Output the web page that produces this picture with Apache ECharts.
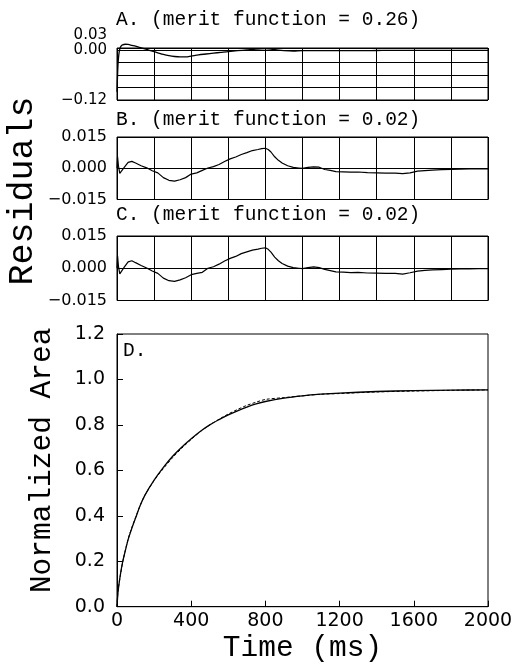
<!DOCTYPE html>
<html>
<head>
<meta charset="utf-8">
<script src="https://cdn.jsdelivr.net/npm/echarts@6/dist/echarts.min.js"></script>
<style>html,body{margin:0;padding:0;background:#fff}#c{width:518px;height:668px}</style>
</head>
<body>
<div id="c"></div>
<script>
// ---- Panel titles ----
const panelTitles = ['A. (merit function = 0.26)', 'B. (merit function = 0.02)', 'C. (merit function = 0.02)', 'D.'];

// ---- Panel A residuals ----
const timeA = [0, 3, 6, 10, 15, 20, 30, 45, 60, 80, 100, 130, 160, 190, 220, 250, 280, 310, 340, 370, 400, 440, 480, 520, 560, 600, 650, 700, 750, 800, 830, 860, 900, 950, 1000, 1100, 1200, 1300, 1400, 1500, 1600, 1700, 1800, 1900, 2000];
const resA = [-0.100, -0.060, -0.030, -0.010, 0.003, 0.009, 0.013, 0.0145, 0.014, 0.012, 0.010, 0.006, 0.002, -0.002, -0.006, -0.010, -0.013, -0.015, -0.016, -0.016, -0.014, -0.011, -0.009, -0.007, -0.005, -0.003, -0.001, 0.001, 0.003, 0.004, 0.003, 0.001, -0.001, -0.002, -0.001, -0.001, -0.001, -0.001, -0.0005, 0.000, 0.000, 0.000, 0.000, 0.000, 0.000];

// ---- Panels B and C residuals ----
const timeBC = [0, 3, 8, 15, 25, 40, 60, 80, 100, 130, 160, 190, 220, 250, 280, 310, 340, 370, 400, 430, 460, 490, 520, 550, 580, 610, 640, 670, 700, 730, 760, 780, 800, 815, 830, 850, 870, 890, 920, 950, 980, 1000, 1030, 1060, 1090, 1120, 1150, 1180, 1220, 1260, 1300, 1350, 1400, 1450, 1500, 1540, 1580, 1620, 1660, 1700, 1750, 1800, 1850, 1900, 1950, 2000];
const resB = [0.0, 0.0055, 0.001, -0.0025, -0.0022, 0.0005, 0.0028, 0.0033, 0.0025, 0.0012, 0.0002, -0.0012, -0.0022, -0.0045, -0.0058, -0.0062, -0.0055, -0.0045, -0.0028, -0.0022, -0.0010, 0.0001, 0.0008, 0.0018, 0.0032, 0.0045, 0.0054, 0.0066, 0.0075, 0.0085, 0.0090, 0.0094, 0.0096, 0.0090, 0.0078, 0.0055, 0.0038, 0.0025, 0.0012, 0.0004, 0.0001, -0.0001, 0.0004, 0.0007, 0.0005, -0.0006, -0.0010, -0.0016, -0.0017, -0.0019, -0.0018, -0.0021, -0.0022, -0.0023, -0.0023, -0.0026, -0.0022, -0.0014, -0.0011, -0.0009, -0.0007, -0.0005, -0.0004, -0.0003, -0.0003, -0.0003];
const resC = [0.0, 0.0058, 0.0008, -0.0026, -0.0021, 0.0006, 0.0030, 0.0035, 0.0026, 0.0013, 0.0001, -0.0013, -0.0024, -0.0046, -0.0058, -0.0061, -0.0054, -0.0044, -0.0030, -0.0024, -0.0019, 0.0000, 0.0007, 0.0019, 0.0034, 0.0046, 0.0055, 0.0068, 0.0076, 0.0084, 0.0089, 0.0093, 0.0095, 0.0088, 0.0075, 0.0052, 0.0035, 0.0022, 0.0010, 0.0003, 0.0000, -0.0002, 0.0003, 0.0006, 0.0003, -0.0005, -0.0011, -0.0017, -0.0018, -0.0020, -0.0019, -0.0022, -0.0023, -0.0024, -0.0024, -0.0027, -0.0021, -0.0013, -0.0010, -0.0008, -0.0006, -0.0004, -0.0003, -0.0003, -0.0002, -0.0002];

// ---- Panel D normalized area ----
const timeD = [0, 5, 10, 20, 30, 40, 60, 80, 100, 125, 150, 200, 250, 300, 350, 400, 450, 500, 550, 600, 650, 700, 750, 800, 900, 1000, 1100, 1200, 1400, 1600, 1800, 2000];
const areaFit = [0.0, 0.06, 0.095, 0.15, 0.195, 0.23, 0.295, 0.345, 0.39, 0.445, 0.49, 0.557, 0.613, 0.662, 0.703, 0.739, 0.772, 0.8, 0.823, 0.844, 0.862, 0.878, 0.892, 0.903, 0.918, 0.928, 0.935, 0.94, 0.947, 0.951, 0.953, 0.954];
const areaData = [0.0, 0.066, 0.096, 0.147, 0.194, 0.231, 0.298, 0.348, 0.392, 0.446, 0.49, 0.555, 0.608, 0.656, 0.698, 0.736, 0.771, 0.8, 0.825, 0.848, 0.868, 0.886, 0.9, 0.912, 0.92, 0.928, 0.935, 0.938, 0.945, 0.949, 0.952, 0.954];

// ---- Tick labels ----
const ticksATop = [0.03];
const ticksA = [0.00, -0.12];
const ticksBC = [0.015, 0.000, -0.015];

const pairs = (xs, ys) => xs.map((x, i) => [x, ys[i]]);
const minus = s => s.replace('-', '\u2212');
const pick = (list, digits) => v => list.some(t => Math.abs(t - v) < 1e-7) ? minus((Math.abs(v) < 1e-9 ? 0 : v).toFixed(digits)) : '';

const chart = echarts.init(document.getElementById('c'), null, {renderer: 'canvas'});
const monoFont = 'Liberation Mono';
const sansFont = 'DejaVu Sans';
const lineStyle = {color: '#000', width: 1};
const gridBase = {left: 117, right: 30, show: true, borderColor: '#000', borderWidth: 1, backgroundColor: 'transparent'};

const resX = (gi) => ({
  type: 'value', gridIndex: gi, min: 0, max: 2000, interval: 200,
  axisLine: {show: false}, axisTick: {show: false}, axisLabel: {show: false},
  splitLine: {show: true, lineStyle: lineStyle}
});

const option = {
  animation: false,
  backgroundColor: '#fff',
  title: panelTitles.map((t, i) => ({
    text: t, left: i === 3 ? 123 : 116, top: [10, 110, 205, 341][i], padding: 0,
    textStyle: {fontFamily: monoFont, fontSize: 19.5, fontWeight: 'normal', color: '#000'}
  })),
  graphic: [{
    type: 'text', x: 23, y: 191, rotation: Math.PI / 2,
    style: {text: 'Residuals', font: '35px "Liberation Mono"', fill: '#000', align: 'center', verticalAlign: 'middle'}
  }],
  grid: [
    Object.assign({}, gridBase, {top: 48, height: 52}),
    {left: 117, right: 30, top: 35, height: 65, show: false},
    Object.assign({}, gridBase, {top: 137, height: 62.5}),
    Object.assign({}, gridBase, {top: 236, height: 64.5}),
    Object.assign({}, gridBase, {top: 334, height: 272.7})
  ],
  xAxis: [
    resX(0),
    {type: 'value', gridIndex: 1, min: 0, max: 2000, show: false},
    resX(2),
    resX(3),
    {
      type: 'value', gridIndex: 4, min: 0, max: 2000, interval: 400,
      axisLine: {show: true, lineStyle: lineStyle},
      axisTick: {show: true, inside: true, length: 6, lineStyle: lineStyle},
      axisLabel: {fontFamily: sansFont, fontSize: 19, color: '#000', margin: 5, formatter: v => String(v)},
      splitLine: {show: false},
      name: 'Time (ms)', nameLocation: 'middle', nameGap: 26,
      nameTextStyle: {fontFamily: monoFont, fontSize: 29.5, color: '#000'}
    }
  ],
  yAxis: [
    {
      type: 'value', gridIndex: 0, min: -0.12, max: 0.0055, interval: 0.03,
      axisLine: {show: false}, axisTick: {show: false},
      axisLabel: {fontFamily: sansFont, fontSize: 15, color: '#000', margin: 10,
        showMaxLabel: false, showMinLabel: true, formatter: pick(ticksA, 2)},
      splitLine: {show: true, lineStyle: lineStyle}
    },
    {
      type: 'value', gridIndex: 1, min: -0.12, max: 0.03, interval: 0.03,
      axisLine: {show: false}, axisTick: {show: false}, splitLine: {show: false},
      axisLabel: {
        fontFamily: sansFont, fontSize: 15, color: '#000', margin: 10,
        showMaxLabel: true, formatter: pick(ticksATop, 2)
      }
    },
    {
      type: 'value', gridIndex: 2, min: -0.015, max: 0.015, interval: 0.015,
      axisLine: {show: false}, axisTick: {show: false},
      splitLine: {show: true, lineStyle: lineStyle},
      axisLabel: {fontFamily: sansFont, fontSize: 16, color: '#000', margin: 10, formatter: pick(ticksBC, 3)}
    },
    {
      type: 'value', gridIndex: 3, min: -0.015, max: 0.015, interval: 0.015,
      axisLine: {show: false}, axisTick: {show: false},
      splitLine: {show: true, lineStyle: lineStyle},
      axisLabel: {fontFamily: sansFont, fontSize: 16, color: '#000', margin: 10, formatter: pick(ticksBC, 3)}
    },
    {
      type: 'value', gridIndex: 4, min: 0, max: 1.2, interval: 0.2,
      axisLine: {show: true, lineStyle: lineStyle},
      axisTick: {show: true, inside: true, length: 6, lineStyle: lineStyle},
      axisLabel: {fontFamily: sansFont, fontSize: 19, color: '#000', margin: 12, formatter: v => v.toFixed(1)},
      splitLine: {show: false},
      name: 'Normalized Area', nameLocation: 'middle', nameGap: 60, nameRotate: 90,
      nameTextStyle: {fontFamily: monoFont, fontSize: 29.5, color: '#000', padding: [0, 0, 0, 20]}
    }
  ],
  series: [
    {type: 'line', xAxisIndex: 0, yAxisIndex: 0, data: pairs(timeA, resA), showSymbol: false, smooth: 0.3, clip: false,
      lineStyle: {color: '#000', width: 1.3}},
    {type: 'line', xAxisIndex: 2, yAxisIndex: 2, data: pairs(timeBC, resB), showSymbol: false,
      lineStyle: {color: '#000', width: 1.2}},
    {type: 'line', xAxisIndex: 3, yAxisIndex: 3, data: pairs(timeBC, resC), showSymbol: false,
      lineStyle: {color: '#000', width: 1.2}},
    {type: 'line', xAxisIndex: 4, yAxisIndex: 4, data: pairs(timeD, areaData), showSymbol: false, smooth: 0.3,
      lineStyle: {color: '#000', width: 1, type: [3, 2]}},
    {type: 'line', xAxisIndex: 4, yAxisIndex: 4, data: pairs(timeD, areaFit), showSymbol: false, smooth: 0.3,
      lineStyle: {color: '#000', width: 1.3}}
  ]
};
chart.setOption(option);
</script>
</body>
</html>
